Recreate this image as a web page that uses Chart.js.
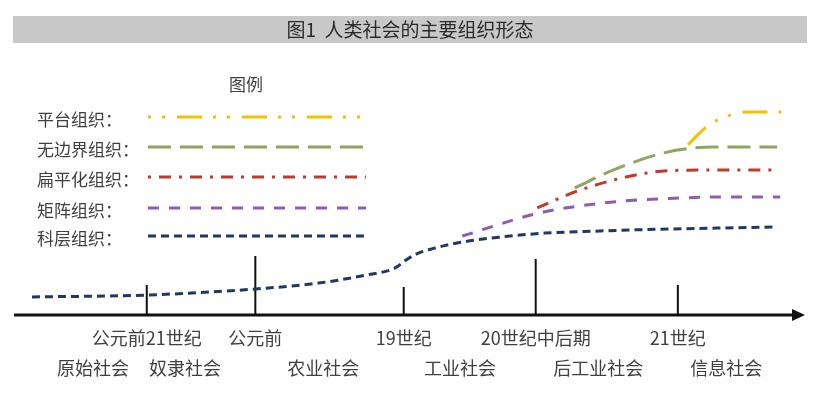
<!DOCTYPE html>
<html>
<head>
<meta charset="utf-8">
<script src="https://cdn.jsdelivr.net/npm/chart.js@4/dist/chart.umd.min.js"></script>
<style>
  body { margin: 0; background: #fff; }
  #wrap { width: 823px; height: 407px; }
</style>
</head>
<body>
<div id="wrap"><canvas id="chart"></canvas></div>
<script>
// time runs 0..100 left to right, "level" 0..100 bottom to top (conceptual units)
const titleText = '图1  人类社会的主要组织形态';
const legendTitle = '图例';

const tickLabels = ['公元前21世纪', '公元前', '19世纪', '20世纪中后期', '21世纪'];
const tickX = [17, 30.9, 49.9, 66.8, 85];
const tickH = [14.3, 28.1, 13.3, 26.7, 14.3];

const eras = ['原始社会', '奴隶社会', '农业社会', '工业社会', '后工业社会', '信息社会'];
const eraX = [10.1, 21.9, 39.6, 57.1, 74.8, 91.2];

const seriesNames = ['平台组织：', '无边界组织：', '扁平化组织：', '矩阵组织：', '科层组织：'];

const platform = [[86.3, 81], [87.6, 86], [89.2, 91], [91.7, 95.2], [93.9, 96.7], [98.3, 96.7]];
const boundaryless = [[71.8, 60.5], [76.7, 69], [83.1, 77.1], [86.9, 79.5], [89.5, 80], [97.7, 80]];
const flat = [[67, 51], [72.5, 59.5], [81, 67.6], [87.5, 69], [97.7, 69]];
const matrix = [[57.4, 37.6], [67.3, 48.6], [76.7, 53.8], [85.3, 55.7], [90.4, 56.2], [98.1, 56.2]];
const bureau = [[2.3, 8.6], [17, 9.5], [31, 12.4], [39, 15.2], [45, 19], [48.8, 22.4], [50.1, 26],
                [51.5, 29], [53.5, 31.5], [57.5, 34.8], [62, 37], [68, 39], [75, 40], [81, 40.7],
                [90, 41.4], [97.4, 41.9]];

const colors = ['#F2C200', '#8FA661', '#C0392B', '#8E5CB5', '#1F3864'];
const dashes = [[25, 11, 3, 11, 3, 12], [23, 9], [12, 8, 3, 8], [11, 10], [8, 5]];
const legendOffsets = [36, 0, 20, 0, 0];
const seriesData = [platform, boundaryless, flat, matrix, bureau];

const toPts = arr => arr.map(p => ({x: p[0], y: p[1]}));

let datasets = seriesData.map((d, i) => ({
    label: seriesNames[i],
    data: toPts(d),
    borderColor: colors[i],
    borderWidth: 3,
    borderDash: dashes[i],
    pointRadius: 0,
    cubicInterpolationMode: 'monotone',
    fill: false,
    clip: false,
    isSeries: true
}));

datasets.push({
    label: 'ticks',
    data: tickX.flatMap((x, i) => [{x: x, y: 0}, {x: x, y: tickH[i]}, {x: x, y: null}]),
    borderColor: '#111',
    borderWidth: 2,
    pointRadius: 0,
    tension: 0,
    spanGaps: false,
    clip: false
});

const FONT = '"Noto Sans CJK SC", "Noto Sans", sans-serif';
const TEXT = '#404040';

const diagram = {
    id: 'diagram',
    beforeDraw(chart) {
        const ctx = chart.ctx;
        ctx.save();
        ctx.fillStyle = '#fff';
        ctx.fillRect(0, 0, chart.width, chart.height);
        // title bar
        ctx.fillStyle = '#C8C8C8';
        ctx.fillRect(13, 16, 794, 27);
        ctx.fillStyle = '#2b2b2b';
        ctx.font = '19px ' + FONT;
        ctx.textAlign = 'center';
        ctx.textBaseline = 'middle';
        ctx.fillText(titleText, 410, 30);
        ctx.restore();
    },
    beforeDatasetsDraw(chart) {
        const ctx = chart.ctx;
        const xs = chart.scales.x, ys = chart.scales.y;
        const y0 = ys.getPixelForValue(0);
        const tip = chart.chartArea.right + 10;
        ctx.save();
        ctx.strokeStyle = '#111';
        ctx.lineWidth = 3;
        ctx.beginPath();
        ctx.moveTo(xs.getPixelForValue(0), y0);
        ctx.lineTo(tip - 6, y0);
        ctx.stroke();
        ctx.fillStyle = '#111';
        ctx.beginPath();
        ctx.moveTo(tip, y0);
        ctx.lineTo(tip - 13, y0 - 6);
        ctx.lineTo(tip - 13, y0 + 6);
        ctx.closePath();
        ctx.fill();
        ctx.restore();
    },
    afterDraw(chart) {
        const ctx = chart.ctx;
        const xs = chart.scales.x, ys = chart.scales.y;
        const y0 = ys.getPixelForValue(0);
        ctx.save();
        ctx.fillStyle = TEXT;
        ctx.font = '18px ' + FONT;
        ctx.textAlign = 'center';
        ctx.textBaseline = 'middle';
        tickLabels.forEach((t, i) => ctx.fillText(t, xs.getPixelForValue(tickX[i]), y0 + 23));
        eras.forEach((t, i) => ctx.fillText(t, xs.getPixelForValue(eraX[i]), y0 + 53));

        // legend
        ctx.font = '17px ' + FONT;
        ctx.fillText(legendTitle, 246, 85);
        const rows = [117, 147, 177, 208, 236];
        ctx.textAlign = 'left';
        chart.data.datasets.filter(d => d.isSeries).forEach((d, i) => {
            ctx.fillStyle = TEXT;
            ctx.fillText(d.label, 37, rows[i] + 3);
            ctx.strokeStyle = d.borderColor;
            ctx.lineWidth = d.borderWidth;
            ctx.setLineDash(d.borderDash);
            ctx.lineDashOffset = legendOffsets[i];
            ctx.beginPath();
            ctx.moveTo(148, rows[i]);
            ctx.lineTo(366, rows[i]);
            ctx.stroke();
        });
        ctx.restore();
    }
};

new Chart(document.getElementById('chart'), {
    type: 'line',
    data: {datasets: datasets},
    options: {
        responsive: true,
        maintainAspectRatio: false,
        animation: false,
        devicePixelRatio: 1,
        layout: {padding: {left: 14, right: 28, top: 105, bottom: 92}},
        scales: {
            x: {type: 'linear', min: 0, max: 100, display: false},
            y: {min: 0, max: 100, display: false}
        },
        plugins: {
            legend: {display: false},
            tooltip: {enabled: false}
        }
    },
    plugins: [diagram]
});
</script>
</body>
</html>
